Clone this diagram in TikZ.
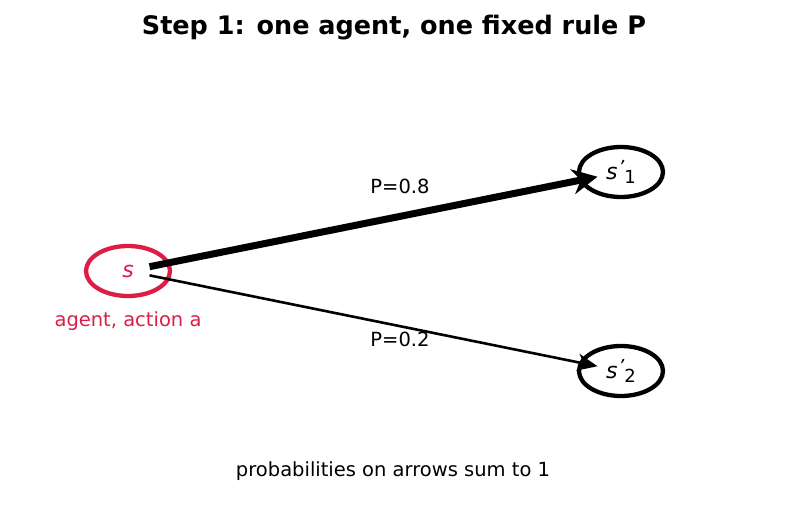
\documentclass[tikz,border=0pt]{standalone}
\usepackage{fontspec}
\setmainfont{DejaVu Sans}
\usetikzlibrary{arrows.meta}
\usetikzlibrary{shapes.geometric}

\definecolor{agentred}{RGB}{220,30,70}

\begin{document}
\begin{tikzpicture}[x=1pt,y=-1pt,
    state/.style={ellipse,draw,line width=4.3pt,minimum width=84pt,minimum height=50pt,inner sep=0pt,font=\fontsize{22}{26}\selectfont},
    edgelabel/.style={font=\fontsize{19.5}{23}\selectfont},
    strong/.style={line width=7pt,-{Stealth[length=25pt,width=25pt,inset=8pt]},shorten <=22pt,shorten >=24pt},
    weak/.style={line width=2.6pt,-{Stealth[length=20pt,width=17pt,inset=6pt]},shorten <=22pt,shorten >=24pt}]
    \useasboundingbox (0,0) rectangle (787,512);
    % title
    \node[font=\bfseries\fontsize{25.5}{30}\selectfont] (title) at (394,28) {Step 1: one agent, one fixed rule P};
    % states
    \node[state,draw=agentred,text=agentred] (s) at (128,271) {\textit{s}};
    \node[state] (s1) at (621,172) {\textit{s}\kern1pt{\fontsize{18}{20}\selectfont\raisebox{0.6ex}{\textit{'}}\raisebox{-0.35ex}{1}}};
    \node[state] (s2) at (621,371) {\textit{s}\kern1pt{\fontsize{18}{20}\selectfont\raisebox{0.6ex}{\textit{'}}\raisebox{-0.35ex}{2}}};
    \node[edgelabel,text=agentred] (who) at (128,321) {agent, action a};
    % transitions
    \draw[strong] (s.center) -- (s1.center);
    \draw[weak] (s.center) -- (s2.center);
    \node[edgelabel] (p1) at (400,186) {P=0.8};
    \node[edgelabel] (p2) at (400,339) {P=0.2};
    \node[edgelabel] (note) at (393,471) {probabilities on arrows sum to 1};
\end{tikzpicture}
\end{document}
